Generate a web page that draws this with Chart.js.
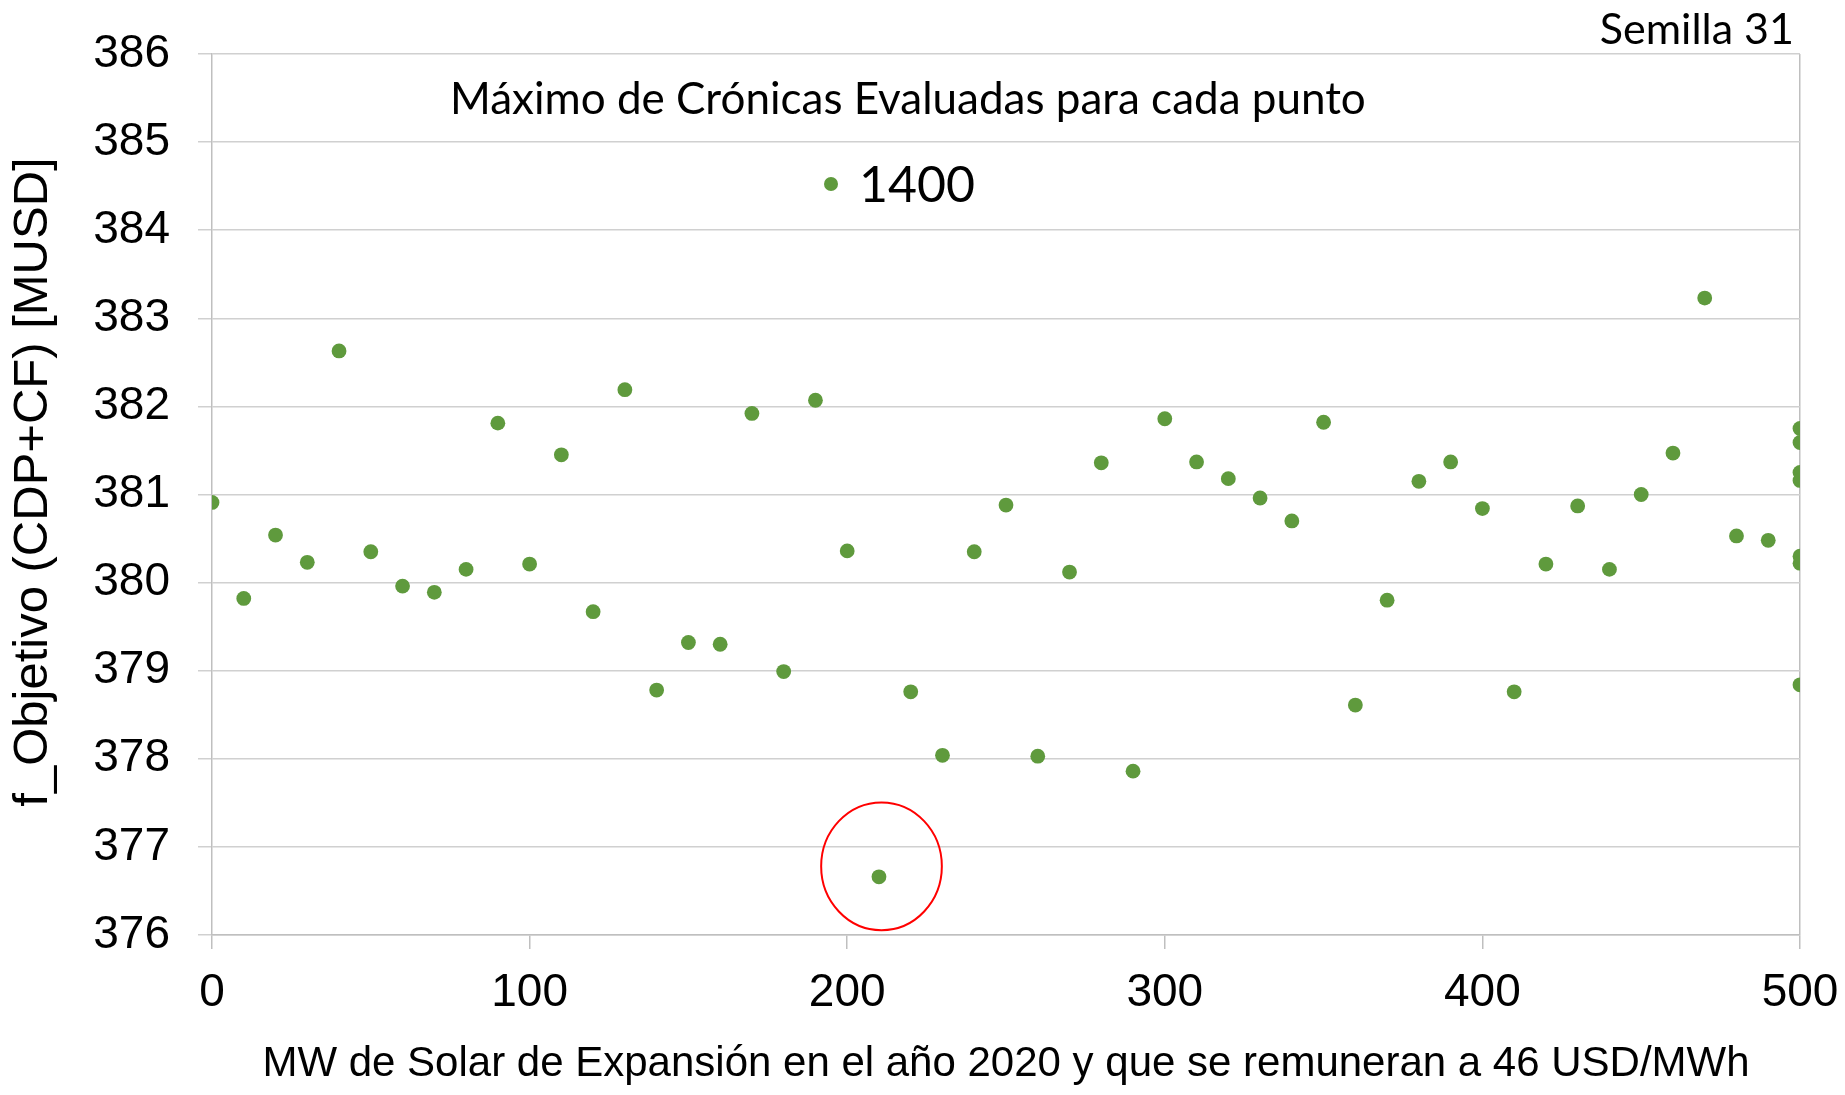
<!DOCTYPE html>
<html>
<head>
<meta charset="utf-8">
<script src="https://cdn.jsdelivr.net/npm/chart.js@4.4.1/dist/chart.umd.min.js"></script>
<style>
  html, body { margin: 0; padding: 0; background: #fff; }
  #wrap { width: 1845px; height: 1095px; }
</style>
</head>
<body>
<div id="wrap"><canvas id="semillaChart"></canvas></div>
<script>
// MW de solar (eje x) y valor de la función objetivo en MUSD (eje y)
const mwSolar = [0, 10, 20, 30, 40, 50, 60, 70, 80, 90, 100, 110, 120, 130, 140, 150, 160, 170, 180, 190,
  200, 210, 220, 230, 240, 250, 260, 270, 280, 290, 300, 310, 320, 330, 340, 350, 360, 370, 380, 390,
  400, 410, 420, 430, 440, 450, 460, 470, 480, 490, 500, 500, 500, 500, 500, 500, 500];
const fObjetivo = [380.91, 379.82, 380.54, 380.23, 382.63, 380.35, 379.96, 379.89, 380.15, 381.81,
  380.21, 381.45, 379.67, 382.19, 378.78, 379.32, 379.30, 381.92, 378.99, 382.07,
  380.36, 376.66, 378.76, 378.04, 380.35, 380.88, 378.03, 380.12, 381.36, 377.86,
  381.86, 381.37, 381.18, 380.96, 380.70, 381.82, 378.61, 379.80, 381.15, 381.37,
  380.84, 378.76, 380.21, 380.87, 380.15, 381.00, 381.47, 383.23, 380.53, 380.48,
  381.75, 381.59, 381.25, 381.16, 380.30, 380.22, 378.84];

const yTicks = [376, 377, 378, 379, 380, 381, 382, 383, 384, 385, 386];
const xTicks = [0, 100, 200, 300, 400, 500];

const seriesName = '1400';
const chartCaption = 'Máximo de Crónicas Evaluadas para cada punto';
const seedLabel = 'Semilla 31';
const yTitle = 'f_Objetivo (CDP+CF) [MUSD]';

// punto destacado (mínimo) rodeado con un círculo rojo
const highlight = { x: 210.8, y: 376.78, rx: 19, ry: 0.725 };

const green = '#5f9a3d';
const gridGray = '#d0d0d0';
const axisGray = '#bfbfbf';

const points = mwSolar.map((x, i) => ({ x: x, y: fObjetivo[i] }));

// textos, título vertical y círculo rojo encima del gráfico
const overlay = {
  id: 'overlay',
  afterDatasetsDraw(chart) {
    const { ctx, scales } = chart;
    ctx.save();

    // círculo alrededor del mínimo
    const cx = scales.x.getPixelForValue(highlight.x);
    const cy = scales.y.getPixelForValue(highlight.y);
    const rx = scales.x.getPixelForValue(highlight.x + highlight.rx) - cx;
    const ry = cy - scales.y.getPixelForValue(highlight.y + highlight.ry);
    ctx.beginPath();
    ctx.ellipse(cx, cy, rx, ry, 0, 0, Math.PI * 2);
    ctx.strokeStyle = '#ff0000';
    ctx.lineWidth = 2;
    ctx.stroke();

    ctx.fillStyle = '#000';
    ctx.textBaseline = 'alphabetic';

    ctx.font = '44px Lato';
    ctx.textAlign = 'left';
    ctx.fillText(chartCaption, 450, 114);

    ctx.font = '43px Lato';
    ctx.textAlign = 'right';
    ctx.fillText(seedLabel, 1794, 44);

    // leyenda
    ctx.beginPath();
    ctx.arc(831, 184, 7, 0, Math.PI * 2);
    ctx.fillStyle = green;
    ctx.fill();
    ctx.fillStyle = '#000';
    ctx.font = '50px Lato';
    ctx.textAlign = 'left';
    ctx.fillText(seriesName, 859, 202);

    // título del eje y
    ctx.translate(33, 482);
    ctx.rotate(-Math.PI / 2);
    ctx.font = '49px "Liberation Sans"';
    ctx.textAlign = 'center';
    ctx.textBaseline = 'middle';
    ctx.fillText(yTitle, 0, 0);

    ctx.restore();
  }
};

new Chart(document.getElementById('semillaChart'), {
  type: 'scatter',
  data: {
    datasets: [{
      label: seriesName,
      data: points,
      backgroundColor: green,
      borderWidth: 0,
      pointRadius: 7.4,
      pointHoverRadius: 7.4
    }]
  },
  options: {
    responsive: true,
    maintainAspectRatio: false,
    animation: false,
    events: [],
    layout: { padding: { top: 54, right: 45, left: 0, bottom: 0 } },
    plugins: {
      legend: { display: false },
      tooltip: { enabled: false }
    },
    scales: {
      x: {
        type: 'linear',
        min: 0,
        max: 500,
        afterBuildTicks: axis => { axis.ticks = xTicks.map(v => ({ value: v })); },
        afterFit: axis => {
          axis.height = 160;
          axis.paddingLeft = 0;
          axis.paddingRight = 0;
        },
        border: { display: true, color: axisGray, width: 1.5 },
        grid: {
          drawOnChartArea: true,
          color: c => (c.tick && c.tick.value === 500 ? axisGray : 'transparent'),
          tickColor: axisGray,
          tickLength: 14,
          lineWidth: 1.5
        },
        ticks: {
          color: '#000',
          padding: 17,
          maxRotation: 0,
          font: { family: 'Liberation Sans', size: 46 }
        },
        title: {
          display: true,
          text: 'MW de Solar de Expansión en el año 2020 y que se remuneran a 46 USD/MWh',
          color: '#000',
          font: { family: 'Liberation Sans', size: 42 },
          padding: { top: 0, bottom: 5 }
        }
      },
      y: {
        type: 'linear',
        min: 376,
        max: 386,
        afterBuildTicks: axis => { axis.ticks = yTicks.map(v => ({ value: v })); },
        afterFit: axis => {
          axis.width = 212;
          axis.paddingTop = 0;
          axis.paddingBottom = 0;
        },
        border: { display: true, color: axisGray, width: 1.5 },
        grid: {
          color: gridGray,
          tickColor: gridGray,
          tickLength: 14,
          lineWidth: 1.5
        },
        ticks: {
          color: '#000',
          padding: 28,
          font: { family: 'Liberation Sans', size: 46 }
        }
      }
    }
  },
  plugins: [overlay]
});
</script>
</body>
</html>
